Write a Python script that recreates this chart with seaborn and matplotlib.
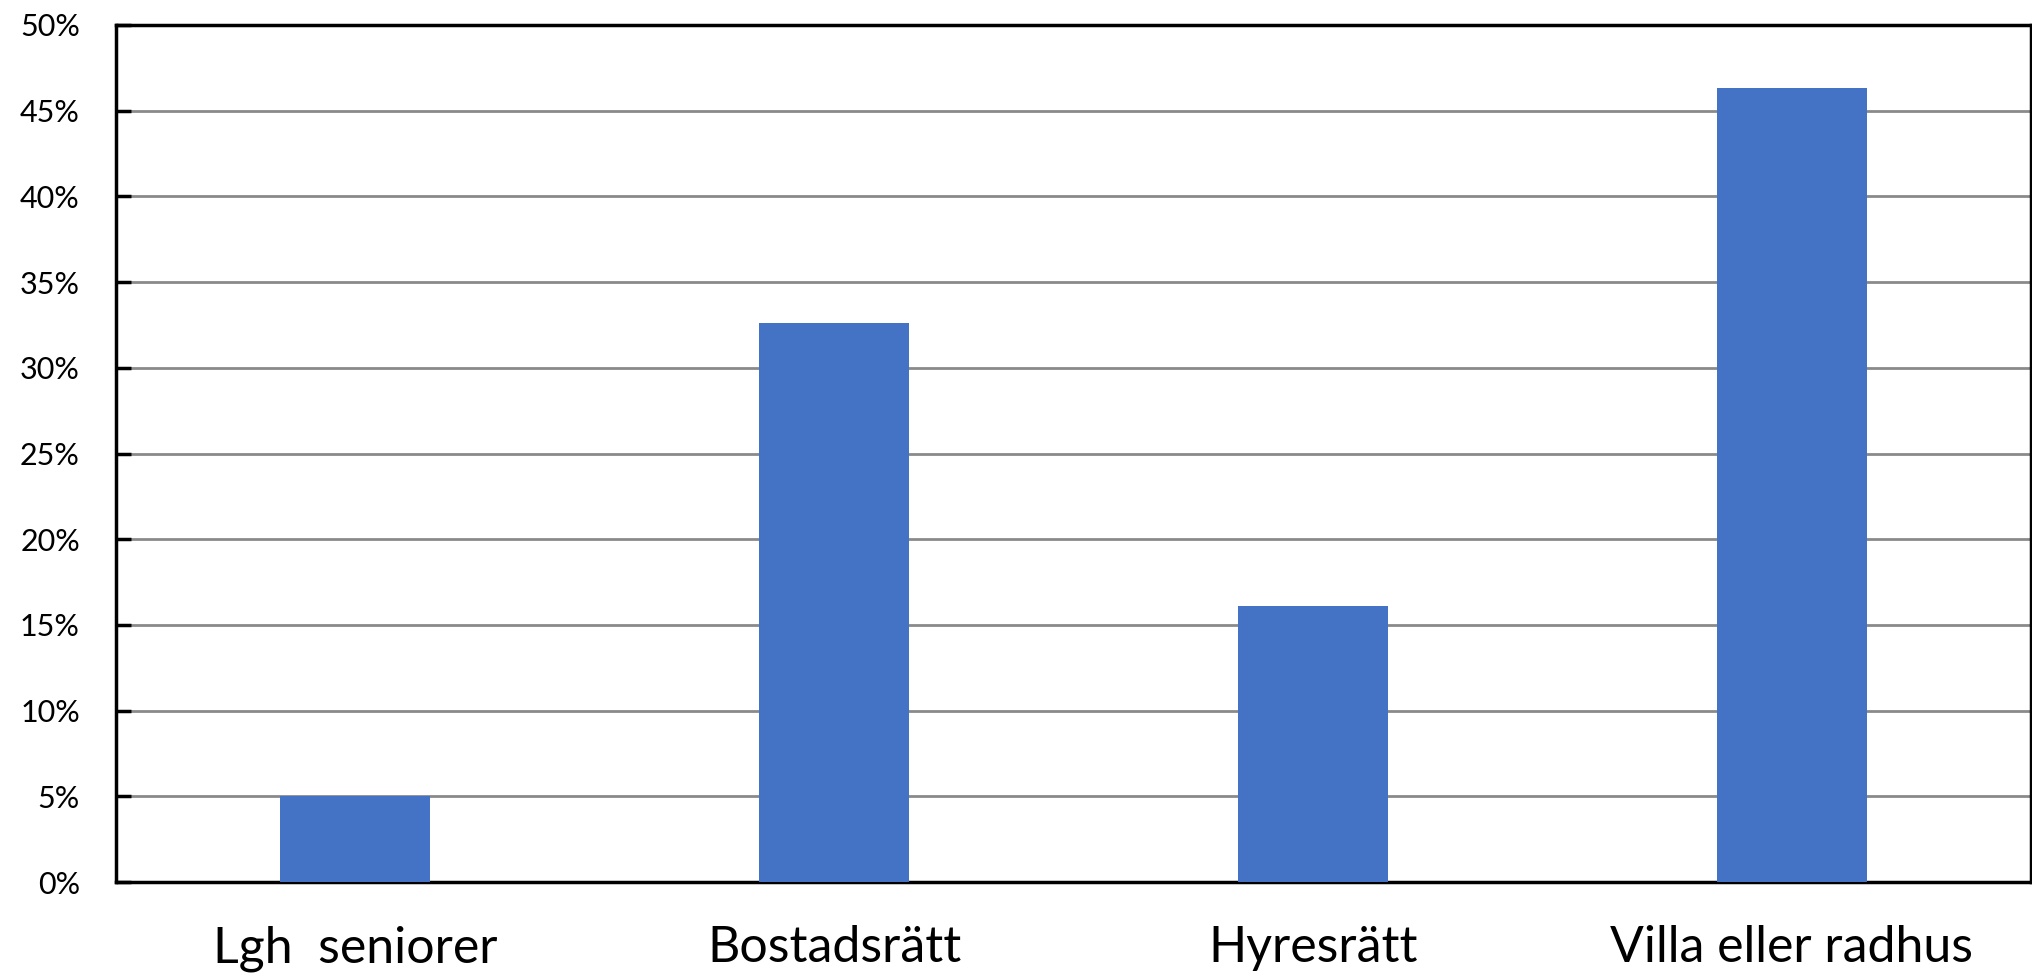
import matplotlib
matplotlib.use("Agg")
import matplotlib.pyplot as plt
import seaborn as sns
import pandas as pd
from matplotlib.ticker import FuncFormatter

categories = ["Lgh  seniorer", "Bostadsrätt", "Hyresrätt", "Villa eller radhus"]
values = [5.0, 32.6, 16.1, 46.3]
yticks = [0, 5, 10, 15, 20, 25, 30, 35, 40, 45, 50]

sns.set_theme(style="white")
plt.rcParams['font.family'] = ['Lato', 'DejaVu Sans']

df = pd.DataFrame({"cat": categories, "val": values})

fig = plt.figure(figsize=(20.33, 9.76), dpi=100)
ax = fig.add_axes([116/2033, 94/976, (2031-116)/2033, (882-25)/976])

sns.barplot(data=df, x="cat", y="val", color="#4472C4", saturation=1,
            width=0.313, ax=ax, zorder=3, linewidth=0)

ax.set_ylim(0, 50)
ax.set_yticks(yticks)
ax.yaxis.set_major_formatter(FuncFormatter(lambda v, p: f"{int(v)}%"))
ax.grid(axis="y", color="#8a8a8a", linewidth=2, zorder=0)
ax.set_axisbelow(True)
ax.set_xlabel("")
ax.set_ylabel("")

for s in ax.spines.values():
    s.set_visible(True)
    s.set_color("black")
    s.set_linewidth(2.5)

ax.tick_params(axis="y", direction="in", length=11, width=2.5, color="black",
               labelsize=22, pad=26, left=True)
ax.tick_params(axis="x", length=0, labelsize=36, pad=31)
for lab in ax.get_yticklabels():
    lab.set_color("black")
for lab in ax.get_xticklabels():
    lab.set_color("black")

fig.savefig("out.png", dpi=100, facecolor="white")
